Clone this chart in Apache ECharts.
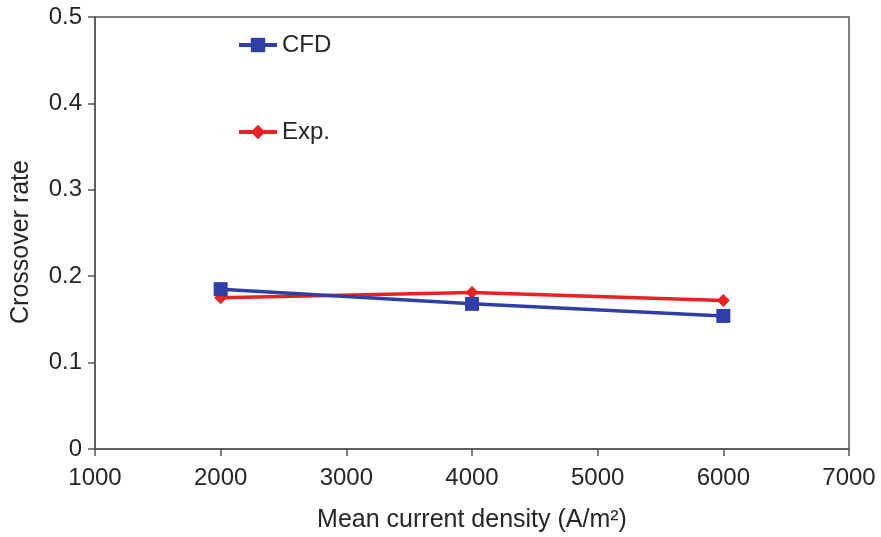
<!DOCTYPE html>
<html><head><meta charset="utf-8">
<script src="https://cdn.jsdelivr.net/npm/echarts@6/dist/echarts.min.js"></script>
<style>html,body{margin:0;padding:0;background:#fff}#c{width:881px;height:537px}</style>
</head><body><div id="c"></div>
<script>
const xValues = [2000, 4000, 6000];
const cfdValues = [0.185, 0.168, 0.154];
const expValues = [0.175, 0.181, 0.172];
const seriesNames = ['CFD', 'Exp.'];
const xTitle = 'Mean current density (A/m²)';
const yTitle = 'Crossover rate';

const chart = echarts.init(document.getElementById('c'));
const font = 'Liberation Sans, Arial, sans-serif';
const axisCol = '#555';
const textCol = '#262626';
chart.setOption({
  animation: false,
  backgroundColor: '#fff',
  grid: { left: 95, right: 32, top: 17, bottom: 88, containLabel: false, outerBoundsMode: 'none',
    show: true, borderColor: axisCol, borderWidth: 1.5 },
  legend: {
    orient: 'vertical', left: 232, top: 28, itemWidth: 38, itemHeight: 18, itemGap: 63,
    lineStyle: { width: 4 },
    textStyle: { fontFamily: font, fontSize: 24, color: textCol },
    data: seriesNames
  },
  xAxis: {
    type: 'value', min: 1000, max: 7000, interval: 1000,
    name: xTitle, nameLocation: 'middle', nameGap: 59,
    nameTextStyle: { fontFamily: font, fontSize: 25, color: textCol },
    axisLine: { lineStyle: { color: axisCol, width: 1.5 } },
    axisTick: { inside: false, length: 7, lineStyle: { color: axisCol, width: 1.5 } },
    axisLabel: { fontFamily: font, fontSize: 24, color: textCol, margin: 17,
      formatter: v => String(v) },
    splitLine: { show: false }
  },
  yAxis: {
    type: 'value', min: 0, max: 0.5, interval: 0.1,
    name: yTitle, nameLocation: 'middle', nameGap: 61, nameRotate: 90,
    nameTextStyle: { fontFamily: font, fontSize: 25, color: textCol, padding: [0, 18, 0, 0] },
    axisLine: { show: true, lineStyle: { color: axisCol, width: 1.5 } },
    axisTick: { show: true, length: 7, lineStyle: { color: axisCol, width: 1.5 } },
    axisLabel: { fontFamily: font, fontSize: 24, color: textCol, margin: 13,
      formatter: v => (v === 0 ? '0' : v.toFixed(1)) },
    splitLine: { show: false }
  },
  series: [
    { name: seriesNames[0], type: 'line', data: xValues.map((x, i) => [x, cfdValues[i]]),
      symbol: 'rect', symbolSize: 14, z: 3,
      lineStyle: { color: '#2f3fa6', width: 3.5 }, itemStyle: { color: '#2f3fa6' } },
    { name: seriesNames[1], type: 'line', data: xValues.map((x, i) => [x, expValues[i]]),
      symbol: 'diamond', symbolSize: 13, z: 2,
      lineStyle: { color: '#e62222', width: 3.5 }, itemStyle: { color: '#e62222' } }
  ]
});
</script></body></html>
